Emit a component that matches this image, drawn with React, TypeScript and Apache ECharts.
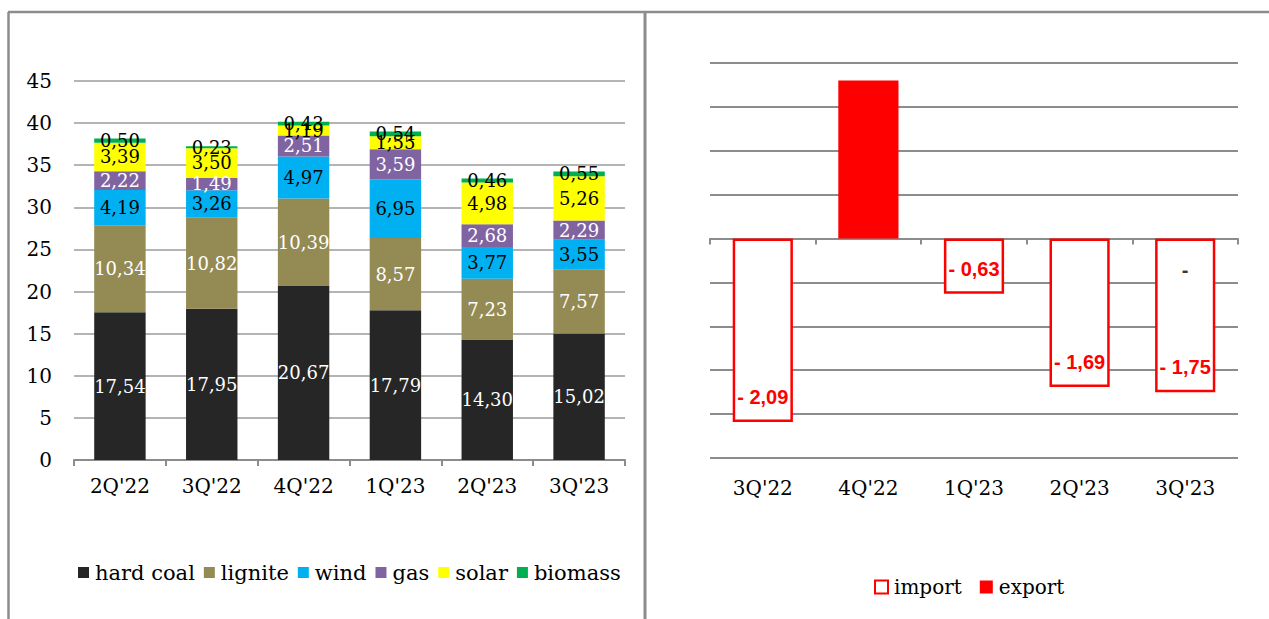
import React, { useEffect, useRef } from "react";
import * as echarts from "echarts";

const leftCategories = ["2Q'22", "3Q'22", "4Q'22", "1Q'23", "2Q'23", "3Q'23"];
const hardCoal = [17.54, 17.95, 20.67, 17.79, 14.3, 15.02];
const lignite = [10.34, 10.82, 10.39, 8.57, 7.23, 7.57];
const wind = [4.19, 3.26, 4.97, 6.95, 3.77, 3.55];
const gas = [2.22, 1.49, 2.51, 3.59, 2.68, 2.29];
const solar = [3.39, 3.5, 1.19, 1.55, 4.98, 5.26];
const biomass = [0.5, 0.23, 0.43, 0.54, 0.46, 0.55];

const rightCategories = ["3Q'22", "4Q'22", "1Q'23", "2Q'23", "3Q'23"];
const importValues: (number | null)[] = [-2.09, null, -0.63, -1.69, -1.75];
const exportValues: (number | null)[] = [null, 1.8, null, null, 0];

const SERIF = "'DejaVu Serif', serif";
const SANS = "'Liberation Sans', Arial, sans-serif";

const fmt = (v: number) => v.toFixed(2).replace(".", ",");

export default function App() {
  const ref = useRef<HTMLDivElement>(null);
  useEffect(() => {
    if (!ref.current) return;
    const chart = echarts.init(ref.current, null, { renderer: "svg" });

    const stackDefs = [
      { name: "hard coal", data: hardCoal, color: "#262626", label: "#ffffff" },
      { name: "lignite", data: lignite, color: "#948A54", label: "#ffffff" },
      { name: "wind", data: wind, color: "#00B0F0", label: "#000000" },
      { name: "gas", data: gas, color: "#8064A2", label: "#ffffff" },
      { name: "solar", data: solar, color: "#FFFF00", label: "#000000" },
      { name: "biomass", data: biomass, color: "#00B050", label: "#000000" },
    ];

    const leftSeries = stackDefs.map((d) => ({
      type: "bar",
      name: d.name,
      stack: "total",
      xAxisIndex: 0,
      yAxisIndex: 0,
      barWidth: "56%",
      data: d.data,
      itemStyle: { color: d.color },
      label: {
        show: true,
        position: "inside",
        color: d.label,
        fontFamily: SERIF,
        fontSize: 18,
        formatter: (p: any) => fmt(p.value),
      },
    }));

    const option: any = {
      animation: false,
      graphic: [
        { type: "line", shape: { x1: 8, y1: 12, x2: 1269, y2: 12 }, style: { stroke: "#8c8c8c", lineWidth: 2.5 } },
        { type: "line", shape: { x1: 8.5, y1: 12, x2: 8.5, y2: 619 }, style: { stroke: "#8c8c8c", lineWidth: 2.5 } },
        { type: "line", shape: { x1: 645, y1: 12, x2: 645, y2: 619 }, style: { stroke: "#8c8c8c", lineWidth: 3 } },
      ],
      grid: [
        { left: 74, right: 644, top: 81, bottom: 159 },
        { left: 710, right: 31, top: 63, bottom: 161 },
      ],
      legend: [
        {
          left: 73,
          top: 557,
          icon: "rect",
          itemWidth: 11,
          itemHeight: 11,
          itemGap: 9,
          data: ["hard coal", "lignite", "wind", "gas", "solar", "biomass"],
          textStyle: { fontFamily: SERIF, fontSize: 21, color: "#000", padding: [0, 0, 0, 1] },
        },
        {
          left: 869,
          top: 572,
          icon: "rect",
          itemWidth: 13,
          itemHeight: 13,
          itemGap: 18,
          data: ["import", "export"],
          textStyle: { fontFamily: SERIF, fontSize: 20, color: "#000", padding: [0, 0, 0, 1] },
        },
      ],
      xAxis: [
        {
          type: "category",
          gridIndex: 0,
          data: leftCategories,
          axisLine: { show: true, lineStyle: { color: "#8c8c8c", width: 2 } },
          axisTick: { show: true, length: 6, lineStyle: { color: "#8c8c8c", width: 2 } },
          axisLabel: { color: "#000", fontFamily: SERIF, fontSize: 20, margin: 16 },
        },
        {
          type: "category",
          gridIndex: 1,
          position: "bottom",
          data: rightCategories,
          axisLine: { show: false, onZero: false },
          axisTick: { show: false },
          axisLabel: { color: "#000", fontFamily: SERIF, fontSize: 20, margin: 20 },
        },
        {
          type: "category",
          gridIndex: 1,
          position: "bottom",
          data: rightCategories,
          axisLine: { show: true, onZero: true, lineStyle: { color: "#8c8c8c", width: 2 } },
          axisTick: { show: true, length: 6, lineStyle: { color: "#8c8c8c", width: 2 } },
          axisLabel: { show: false },
        },
      ],
      yAxis: [
        {
          type: "value",
          gridIndex: 0,
          min: 0,
          max: 45,
          interval: 5,
          axisLine: { show: false },
          axisTick: { show: false },
          axisLabel: { color: "#000", fontFamily: SERIF, fontSize: 20, margin: 22 },
          splitLine: { lineStyle: { color: "#b4b4b4", width: 2 } },
        },
        {
          type: "value",
          gridIndex: 1,
          min: -2.5,
          max: 2,
          interval: 0.5,
          axisLine: { show: false },
          axisTick: { show: false },
          axisLabel: { show: false },
          splitLine: { lineStyle: { color: "#8c8c8c", width: 2 } },
        },
      ],
      series: [
        ...leftSeries,
        {
          type: "bar",
          name: "import",
          xAxisIndex: 1,
          yAxisIndex: 1,
          barWidth: "57%",
          barGap: "-100%",
          data: importValues,
          itemStyle: { color: "#ffffff", borderColor: "#FF0000", borderWidth: 2.5 },
          label: {
            show: true,
            position: "insideBottom",
            distance: 15,
            color: "#FF0000",
            fontFamily: SANS,
            fontWeight: "bold",
            fontSize: 20,
            formatter: (p: any) => (p.value == null ? "" : "- " + fmt(Math.abs(p.value))),
          },
          z: 3,
        },
        {
          type: "bar",
          name: "export",
          xAxisIndex: 1,
          yAxisIndex: 1,
          barWidth: "57%",
          barGap: "-100%",
          data: exportValues,
          itemStyle: { color: "#FF0000" },
          label: { show: false },
          z: 2,
        },
        {
          type: "scatter",
          name: "export-zero",
          xAxisIndex: 1,
          yAxisIndex: 1,
          data: exportValues.map((v) => (v === 0 ? v : "-")),
          symbol: "rect",
          symbolSize: 2,
          itemStyle: { color: "rgba(255,255,255,0)" },
          label: {
            show: true,
            position: "inside",
            offset: [0, 31],
            formatter: "-",
            color: "#000000",
            fontFamily: SANS,
            fontWeight: "bold",
            fontSize: 20,
          },
          z: 5,
        },
      ],
    };
    chart.setOption(option);
    return () => chart.dispose();
  }, []);

  return (
    <div
      ref={ref}
      style={{ position: "fixed", left: 0, top: 0, width: 1269, height: 619, background: "#fff" }}
    />
  );
}
